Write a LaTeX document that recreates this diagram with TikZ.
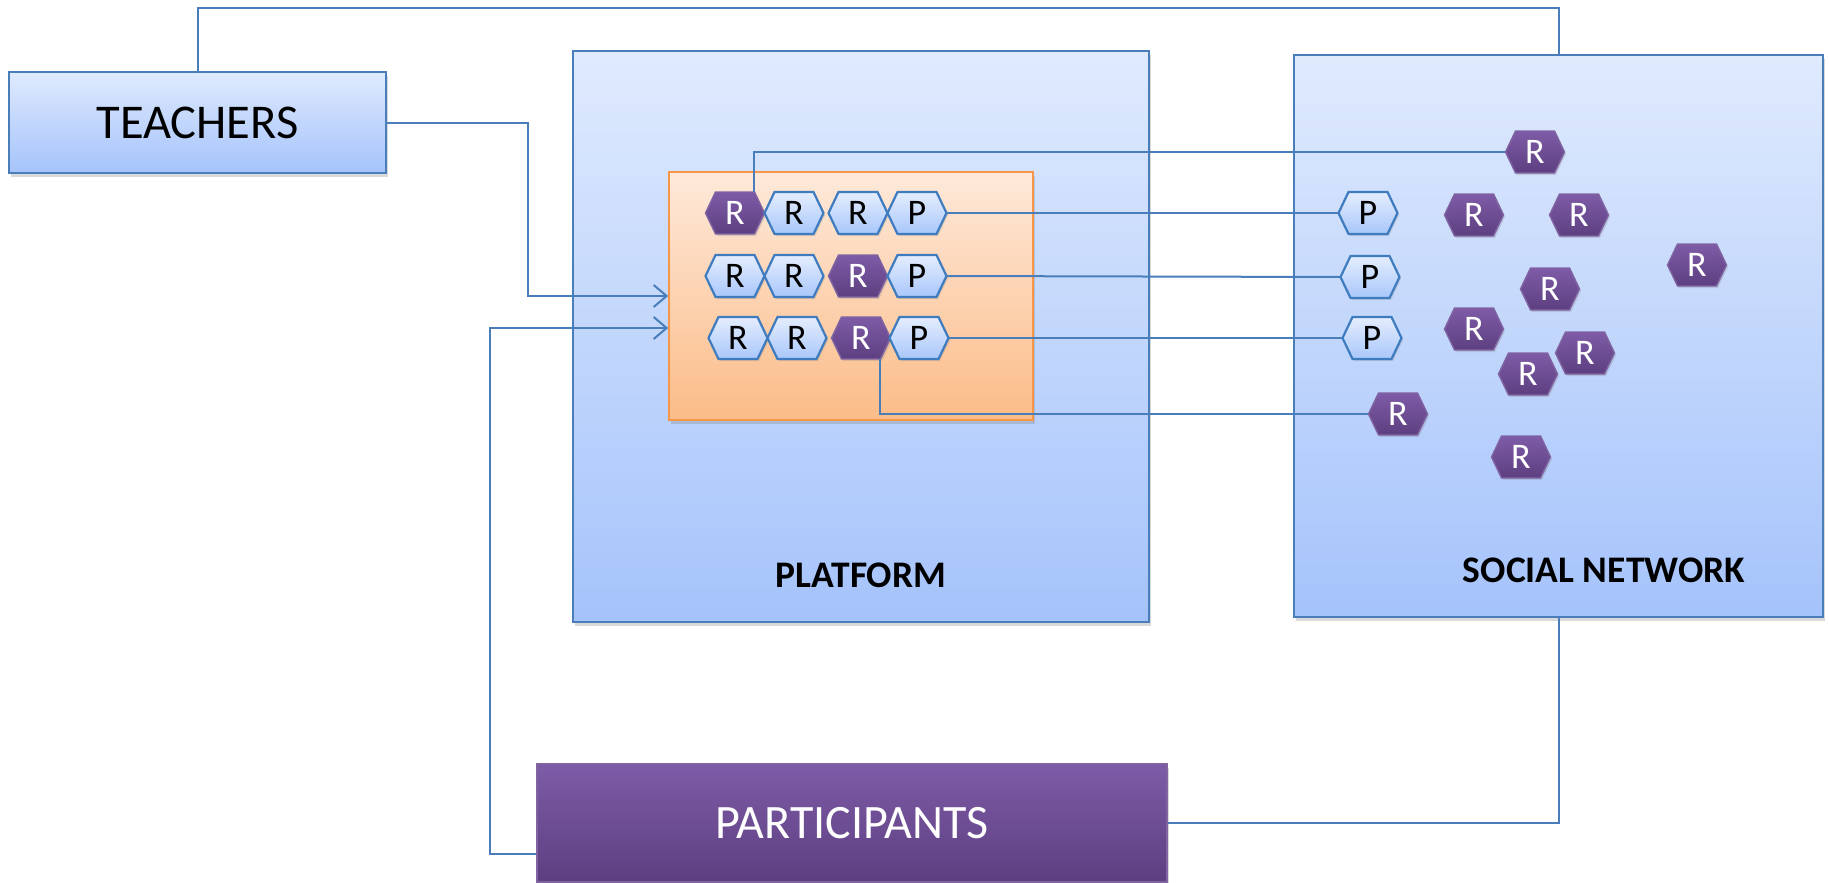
\documentclass[tikz,border=0pt]{standalone}
\usepackage{fontspec}
\setmainfont{Carlito}
\usetikzlibrary{arrows.meta,shadows}
\definecolor{lineblue}{HTML}{4A7EBB}
\definecolor{boxtop}{HTML}{DFEAFD}
\definecolor{boxbot}{HTML}{A5C3FB}
\definecolor{orgtop}{HTML}{FEE9DA}
\definecolor{orgbot}{HTML}{FBBC88}
\definecolor{orgline}{HTML}{F79646}
\definecolor{purtop}{HTML}{7E5BA7}
\definecolor{purbot}{HTML}{5D3F80}
\definecolor{purline}{HTML}{8064A2}
\definecolor{hextop}{HTML}{E4EDFD}
\definecolor{hexbot}{HTML}{A9C7FB}
\definecolor{hexline}{HTML}{3F7CBF}
\tikzset{
  bigshadow/.style={drop shadow={shadow xshift=2pt,shadow yshift=-4pt,opacity=0.3}},
  bluebox/.style={draw=lineblue,line width=1.6pt,top color=boxtop,bottom color=boxbot,bigshadow,inner sep=0pt},
  orangebox/.style={draw=orgline,line width=1.6pt,top color=orgtop,bottom color=orgbot,bigshadow,inner sep=0pt},
  purplebox/.style={draw=purline,line width=1.2pt,top color=purtop,bottom color=purbot,bigshadow,inner sep=0pt},
  conn/.style={draw=lineblue,line width=2pt},
  arr/.style={-{Straight Barb[length=13pt,width=22pt,line width=2pt]}},
  hexL/.style={draw=hexline,line width=2.2pt,top color=hextop,bottom color=hexbot,drop shadow={shadow xshift=1.5pt,shadow yshift=-2pt,opacity=0.25}},
  hexP/.style={draw=purline,line width=1.4pt,top color=purtop,bottom color=purbot,drop shadow={shadow xshift=1.5pt,shadow yshift=-2pt,opacity=0.25}},
  hexLtxt/.style={minimum width=59pt,minimum height=42pt,inner sep=0pt,text=black,font=\fontsize{36}{36}\selectfont},
  hexPtxt/.style={minimum width=59pt,minimum height=42pt,inner sep=0pt,text=white,font=\fontsize{36}{36}\selectfont},
  biglabel/.style={font=\fontsize{37.5}{40}\selectfont\bfseries,text=black},
}
\newcommand{\hexnode}[5]{%
  \path[#4] ({#2-29.5},#3) -- ({#2-19.5},{#3-21}) -- ({#2+19.5},{#3-21}) -- ({#2+29.5},#3) -- ({#2+19.5},{#3+21}) -- ({#2-19.5},{#3+21}) -- cycle;
  \node[#4txt] (#1) at (#2,#3) {#5};
}
\begin{document}
\begin{tikzpicture}[x=1pt,y=-1pt]
\useasboundingbox (0,0) rectangle (1829,883);
\begin{scope}
\clip (0,0) rectangle (1829,883);
% main boxes
\node[bluebox,minimum width=377pt,minimum height=101pt,font=\fontsize{48.5}{52}\selectfont] (teachers) at (197.5,122.5) {TEACHERS};
\node[bluebox,minimum width=576pt,minimum height=571pt] (platform) at (861,336.5) {};
\node[bluebox,minimum width=529pt,minimum height=562pt] (sn) at (1558.5,336) {};
\node[orangebox,minimum width=364pt,minimum height=248pt] (orange) at (851,296) {};
\node[purplebox,minimum width=630pt,minimum height=118pt,text=white,font=\fontsize{48}{52}\selectfont] (participants) at (852,823) {PARTICIPANTS};
\node[biglabel] (platlabel) at (861,575) {PLATFORM};
\node[biglabel] (snlabel) at (1604,570) {SOCIAL NETWORK};

% coordinates for routing
\coordinate (topy) at (0,8);
\coordinate (xt) at (528,0);
\coordinate (xp) at (490,0);
\coordinate (pin) at ([yshift=-32pt]orange.west);

% hexagons in platform
\hexnode{h11}{735}{213}{hexP}{R}
\hexnode{h12}{794}{213}{hexL}{R}
\hexnode{h13}{858}{213}{hexL}{R}
\hexnode{h14}{917}{213}{hexL}{P}
\hexnode{h21}{735}{276}{hexL}{R}
\hexnode{h22}{794}{276}{hexL}{R}
\hexnode{h23}{858}{276}{hexP}{R}
\hexnode{h24}{917}{276}{hexL}{P}
\hexnode{h31}{738}{338}{hexL}{R}
\hexnode{h32}{797}{338}{hexL}{R}
\hexnode{h33}{861}{338}{hexP}{R}
\hexnode{h34}{919}{338}{hexL}{P}

% hexagons in social network
\hexnode{s1}{1535}{152}{hexP}{R}
\hexnode{sp1}{1368}{213}{hexL}{P}
\hexnode{s2}{1474}{215}{hexP}{R}
\hexnode{s3}{1579}{215}{hexP}{R}
\hexnode{s4}{1697}{265}{hexP}{R}
\hexnode{sp2}{1370}{277}{hexL}{P}
\hexnode{s5}{1550}{289}{hexP}{R}
\hexnode{sp3}{1372}{338}{hexL}{P}
\hexnode{s6}{1474}{329}{hexP}{R}
\hexnode{s7}{1585}{353}{hexP}{R}
\hexnode{s8}{1528}{374}{hexP}{R}
\hexnode{s9}{1398}{414}{hexP}{R}
\hexnode{s10}{1521}{457}{hexP}{R}

% connectors
\draw[conn] (teachers.north) |- (topy -| sn.north) -- (sn.north);
\draw[conn,arr] (teachers.east) -| (xt |- orange.west) -- (orange.west);
\draw[conn,arr] ([yshift=-31pt]participants.west) -| (xp |- pin) -- (pin);
\draw[conn] (participants.east) -| (sn.south);
\draw[conn] ([xshift=19pt]h11.north) |- (s1.west);
\draw[conn] (h14.east) -- (sp1.west);
\draw[conn] (h24.east) -- (sp2.west);
\draw[conn] (h34.east) -- (sp3.west);
\draw[conn] ([xshift=19pt]h33.south) |- (s9.west);
\end{scope}
\end{tikzpicture}
\end{document}
